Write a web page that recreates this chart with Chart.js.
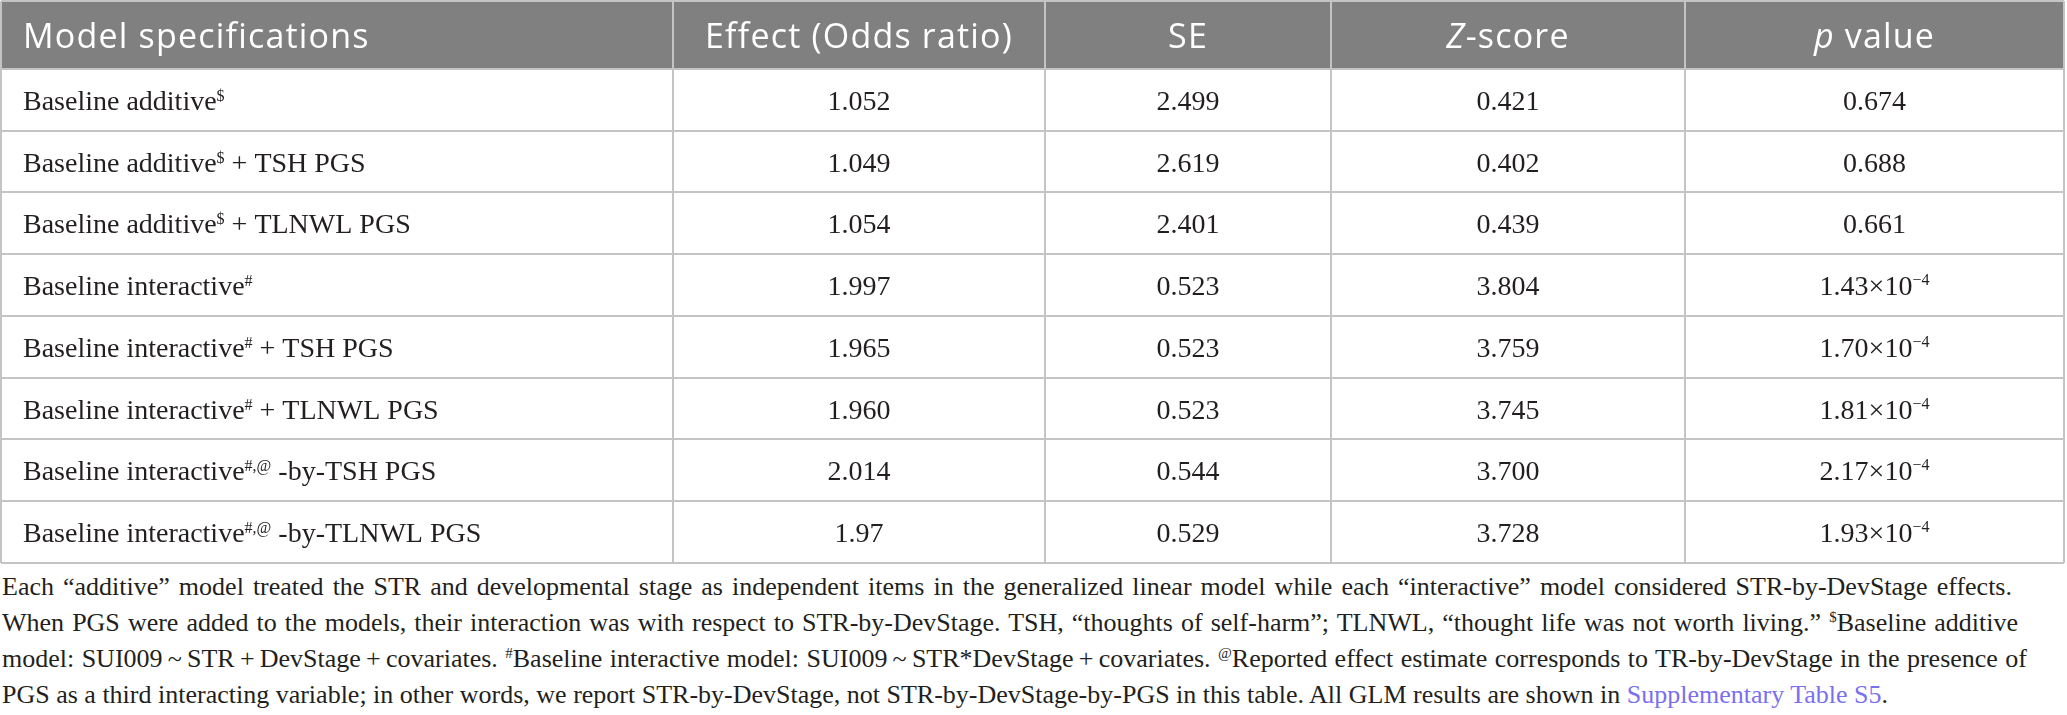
<!DOCTYPE html>
<html>
<head>
<meta charset="utf-8">
<script src="https://cdn.jsdelivr.net/npm/chart.js@4.4.0/dist/chart.umd.min.js"></script>
<style>
  html, body { margin: 0; padding: 0; background: #fff; }
  body { position: relative; width: 2067px; height: 715px; overflow: hidden; }
  #wrap { position: absolute; left: 0; top: 0; width: 2067px; height: 565px; }
  .note {
    position: absolute;
    left: 2px;
    font-family: "Liberation Serif", serif;
    font-size: 26px;
    line-height: 36px;
    height: 36px;
    color: #231f20;
    text-align: justify;
    text-align-last: justify;
  }
  .note.last { text-align: left; text-align-last: left; white-space: nowrap; }
  .note sup { font-size: 15px; vertical-align: 9px; line-height: 0; }
  .note .link { color: #7a6ff0; }
</style>
</head>
<body>
<div id="wrap"><canvas id="tableChart"></canvas></div>
<div class="note" style="top:569px; width:2010px">Each “additive” model treated the STR and developmental stage as independent items in the generalized linear model while each “interactive” model considered STR-by-DevStage effects.</div>
<div class="note" style="top:605px; width:2016px">When PGS were added to the models, their interaction was with respect to STR-by-DevStage. TSH, “thoughts of self-harm”; TLNWL, “thought life was not worth living.” <sup>$</sup>Baseline additive</div>
<div class="note" style="top:641px; width:2025px">model: SUI009&thinsp;~&thinsp;STR&thinsp;+&thinsp;DevStage&thinsp;+&thinsp;covariates. <sup>#</sup>Baseline interactive model: SUI009&thinsp;~&thinsp;STR*DevStage&thinsp;+&thinsp;covariates. <sup>@</sup>Reported effect estimate corresponds to TR-by-DevStage in the presence of</div>
<div class="note last" style="top:677px">PGS as a third interacting variable; in other words, we report STR-by-DevStage, not STR-by-DevStage-by-PGS in this table. All GLM results are shown in <span class="link">Supplementary Table S5</span>.</div>
<script>
// table data
const headers = ['Model specifications', 'Effect (Odds ratio)', 'SE', '*Z*-score', '*p* value'];
const models = [
  'Baseline additive^$',
  'Baseline additive^$ + TSH PGS',
  'Baseline additive^$ + TLNWL PGS',
  'Baseline interactive^#',
  'Baseline interactive^# + TSH PGS',
  'Baseline interactive^# + TLNWL PGS',
  'Baseline interactive^#,@ -by-TSH PGS',
  'Baseline interactive^#,@ -by-TLNWL PGS',
];
// kept as printed (1.960 vs 1.97)
const effect = ['1.052', '1.049', '1.054', '1.997', '1.965', '1.960', '2.014', '1.97'];
const se = [2.499, 2.619, 2.401, 0.523, 0.523, 0.523, 0.544, 0.529];
const zScore = [0.421, 0.402, 0.439, 3.804, 3.759, 3.745, 3.700, 3.728];
const pValue = [0.674, 0.688, 0.661, 1.43e-4, 1.70e-4, 1.81e-4, 2.17e-4, 1.93e-4];

// layout
const HEAD_UNITS = 1.1; // header row is a bit taller than body rows
const colEdges = [0, 0.3257, 0.5061, 0.6447, 0.8163, 1];

const HEAD_FONT = '34px "Open Sans"';
const HEAD_ITALIC = 'italic 34px "Open Sans"';
const BODY_FONT = '28px "Liberation Serif"';
const SUP_FONT = '16px "Liberation Serif"';

function headParts(text) {
  // *x* marks italic
  return text.split(/(\*[^*]+\*)/).filter(s => s).map(s =>
    s[0] === '*' ? { text: s.slice(1, -1), font: HEAD_ITALIC } : { text: s, font: HEAD_FONT });
}

function labelParts(label) {
  const m = label.match(/^(.*?)\^(\S+)(.*)$/);
  if (!m) return [{ text: label, font: BODY_FONT }];
  return [
    { text: m[1], font: BODY_FONT },
    { text: m[2], font: SUP_FONT, rise: 9 },
    { text: m[3], font: BODY_FONT },
  ];
}

function pParts(v) {
  if (v >= 0.001) return [{ text: v.toFixed(3), font: BODY_FONT }];
  const [mant, exp] = v.toExponential(2).split('e');
  return [
    { text: mant + '×10', font: BODY_FONT },
    { text: exp.replace('-', '−'), font: SUP_FONT, rise: 10 },
  ];
}

function drawParts(ctx, parts, x, baseline, align) {
  let total = 0;
  parts.forEach(p => { ctx.font = p.font; p.w = ctx.measureText(p.text).width; total += p.w; });
  let cx = align === 'center' ? x - total / 2 : x;
  parts.forEach(p => {
    ctx.font = p.font;
    ctx.fillText(p.text, cx, baseline - (p.rise || 0));
    cx += p.w;
  });
}

const tableCells = {
  id: 'tableCells',
  beforeDraw(chart) {
    const { ctx, scales: { x, y } } = chart;
    ctx.save();
    ctx.fillStyle = '#ffffff';
    ctx.fillRect(0, 0, chart.width, chart.height);
    // header background
    const x0 = x.getPixelForValue(0), x1 = x.getPixelForValue(1);
    const y0 = y.getPixelForValue(0), y1 = y.getPixelForValue(HEAD_UNITS);
    ctx.fillStyle = '#808080';
    ctx.fillRect(x0, y0, x1 - x0, y1 - y0);
    ctx.restore();
  },
  afterDraw(chart) {
    const { ctx, scales: { x, y } } = chart;
    ctx.save();
    ctx.textAlign = 'left';
    ctx.textBaseline = 'alphabetic';
    const colMid = i => x.getPixelForValue((colEdges[i] + colEdges[i + 1]) / 2);
    const padLeft = x.getPixelForValue(colEdges[0]) + 22;

    // header row (a little tracking like the original sans)
    ctx.fillStyle = '#ffffff';
    ctx.letterSpacing = '1.2px';
    const headBase = y.getPixelForValue(HEAD_UNITS / 2) + 13;
    headers.forEach((h, i) => {
      if (i === 0) drawParts(ctx, headParts(h), padLeft, headBase, 'left');
      else drawParts(ctx, headParts(h), colMid(i), headBase, 'center');
    });
    ctx.letterSpacing = '0px';

    // body rows
    ctx.fillStyle = '#231f20';
    models.forEach((m, r) => {
      const base = y.getPixelForValue(HEAD_UNITS + r + 0.5) + 10;
      drawParts(ctx, labelParts(m), padLeft, base, 'left');
      drawParts(ctx, [{ text: effect[r], font: BODY_FONT }], colMid(1), base, 'center');
      drawParts(ctx, [{ text: se[r].toFixed(3), font: BODY_FONT }], colMid(2), base, 'center');
      drawParts(ctx, [{ text: zScore[r].toFixed(3), font: BODY_FONT }], colMid(3), base, 'center');
      drawParts(ctx, pParts(pValue[r]), colMid(4), base, 'center');
    });
    ctx.restore();
  },
};

const gridOpts = { color: '#c4c4c4', lineWidth: 2, drawTicks: false };

new Chart(document.getElementById('tableChart'), {
  type: 'scatter',
  data: { datasets: [] },
  plugins: [tableCells],
  options: {
    responsive: true,
    maintainAspectRatio: false,
    animation: false,
    events: [],
    layout: { padding: { left: 1, top: 1, right: 3, bottom: 2 } },
    plugins: { legend: { display: false }, tooltip: { enabled: false } },
    scales: {
      x: {
        type: 'linear',
        min: 0,
        max: 1,
        afterBuildTicks: s => { s.ticks = colEdges.map(v => ({ value: v })); },
        ticks: { display: false },
        grid: gridOpts,
        border: { display: false },
      },
      y: {
        type: 'linear',
        reverse: true,
        min: 0,
        max: HEAD_UNITS + models.length,
        afterBuildTicks: s => {
          s.ticks = [0, ...models.map((_, i) => HEAD_UNITS + i), HEAD_UNITS + models.length]
            .map(v => ({ value: v }));
        },
        ticks: { display: false },
        grid: gridOpts,
        border: { display: false },
      },
    },
  },
});
</script>
</body>
</html>
